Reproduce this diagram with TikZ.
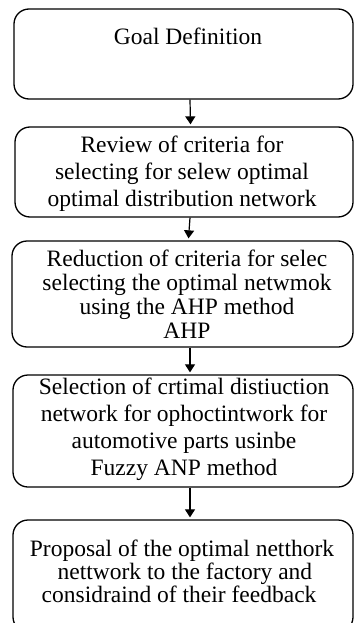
\documentclass[tikz,border=0pt]{standalone}
\usepackage{fontspec}
\setmainfont{Liberation Serif}
\usetikzlibrary{arrows.meta}
\begin{document}
\begin{tikzpicture}[x=1pt,y=-1pt,
  box/.style={draw=black, line width=1.3pt, rounded corners=15pt, minimum width=339pt, inner sep=0pt},
  txt/.style={align=center, inner sep=0pt, font=\fontsize{23.5}{27}\selectfont},
  arr/.style={-{Triangle[length=8pt,width=10pt]}, line width=1.2pt}]
\useasboundingbox (0,0) rectangle (354,623);
\clip (0,0) rectangle (354,623);
\fill[white] (0,0) rectangle (354,623);
\node[box, minimum height=90pt] (b1) at (183.5,54) {};
\node[box, minimum height=90pt, minimum width=338pt] (b2) at (184,172) {};
\node[box, minimum height=106pt, minimum width=341pt] (b3) at (182.5,294) {};
\node[box, minimum height=112pt, minimum width=340pt] (b4) at (183,431) {};
\node[box, minimum height=112pt, minimum width=340pt] (b5) at (183,576) {};
\node[txt] (t1) at (188,36) {Goal Definition};
\node[txt] (t2) at (182,174) {Review of criteria for\\ selecting for selew optimal\\ optimal distribution network};
\node[txt, font=\fontsize{23.5}{24}\selectfont] (t3) at (187,294) {Reduction of criteria for selec\\ selecting the optimal netwmok\\ using the AHP method\\ AHP};
\node[txt] (t4) at (184,429) {Selection of crtimal distiuction\\ network for ophoctintwork for\\ automotive parts usinbe\\ Fuzzy ANP method};
\node[txt, font=\fontsize{23.5}{23}\selectfont] (t5) at (182,571) {Proposal of the optimal netthork\\ \ nettwork to the factory and\\ considraind of their feedback\ \ };
\draw[arr] ([xshift=6.5pt]b1.south) -- ([xshift=6.5pt,yshift=2pt]b2.north);
\draw[arr] ([xshift=6pt]b2.south) -- ([xshift=6pt,yshift=2pt]b3.north);
\draw[arr] ([xshift=7.5pt]b3.south) -- ([xshift=7pt,yshift=2pt]b4.north);
\draw[arr] ([xshift=7pt]b4.south) -- ([xshift=7pt,yshift=2pt]b5.north);
\end{tikzpicture}
\end{document}
